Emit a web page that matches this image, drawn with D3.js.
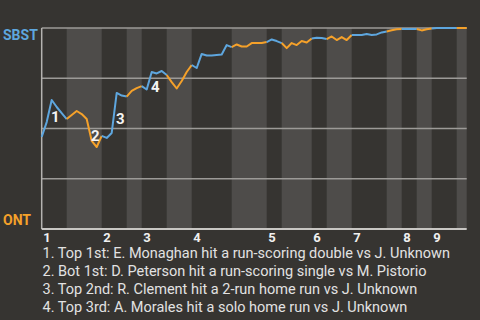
<!DOCTYPE html>
<html>
<head>
<meta charset="utf-8">
<script src="https://cdn.jsdelivr.net/npm/d3@7"></script>
<style>
  html, body { margin: 0; padding: 0; background: #363431; }
  svg { display: block; font-family: Roboto, "Noto Sans", sans-serif; }
</style>
</head>
<body>
<div id="chart"></div>
<script>
const away_colour = "#5ea6de"
const home_colour = "#f5a12a"
const band_colour = "#4e4c4a"
const grid_colour = "#9c9a97"

const away_team = "SBST"
const home_team = "ONT"

// plate appearance index where each half inning starts (last value = end of game)
const half_innings = [0, 5, 12, 17, 20, 25, 30, 38, 45, 48, 54, 57, 62, 69, 72, 75, 78, 83, 85]
const inning_labels = ["1", "2", "3", "4", "5", "6", "7", "8", "9"]

// SBST win probability after each plate appearance
const win_prob = [
  0.458, 0.532, 0.642, 0.607, 0.577, 0.547, 0.567, 0.587, 0.572, 0.547,
  0.438, 0.408, 0.463, 0.453, 0.478, 0.677, 0.664, 0.659, 0.687, 0.701,
  0.711, 0.694, 0.781, 0.774, 0.786, 0.766, 0.731, 0.699, 0.736, 0.781,
  0.816, 0.801, 0.871, 0.863, 0.863, 0.866, 0.868, 0.915, 0.905, 0.918,
  0.908, 0.908, 0.925, 0.925, 0.925, 0.930, 0.943, 0.935, 0.925, 0.900,
  0.925, 0.915, 0.935, 0.928, 0.948, 0.952, 0.950, 0.945, 0.958, 0.940,
  0.955, 0.940, 0.965, 0.965, 0.965, 0.970, 0.965, 0.968, 0.978, 0.983,
  0.989, 0.994, 0.995, 0.995, 0.995, 0.995, 0.988, 0.994, 0.998, 1.000,
  1.000, 1.000, 1.000, 1.000, 1.000, 1.000
]

const grid_values = [0.25, 0.5, 0.75, 1]

// big plays: plate appearance index where the play ends
const play_index = [2, 10, 15, 22]
const play_labels = ["1", "2", "3", "4"]
const play_notes = [
  "1. Top 1st: E. Monaghan hit a run-scoring double vs J. Unknown",
  "2. Bot 1st: D. Peterson hit a run-scoring single vs M. Pistorio",
  "3. Top 2nd: R. Clement hit a 2-run home run vs J. Unknown",
  "4. Top 3rd: A. Morales hit a solo home run vs J. Unknown"
]

var width = 480, height = 320

var svg = d3.select("#chart")
  .append("svg")
    .attr("width", width)
    .attr("height", height)

var x = d3.scaleLinear().domain([0, 85]).range([41.7, 466.7])
var y = d3.scaleLinear().domain([0, 1]).range([229, 28])

// shaded bottom halves
var halves = d3.range(half_innings.length - 1).map(function(i) {
  return { start: half_innings[i], end: half_innings[i+1], top: i % 2 == 0 }
})

svg.selectAll("band")
  .data(halves.filter(function(d) { return !d.top }))
  .enter()
  .append("rect")
    .attr("x", function(d) { return x(d.start) })
    .attr("width", function(d) { return x(d.end) - x(d.start) })
    .attr("y", y(1))
    .attr("height", y(0) - y(1))
    .style("fill", band_colour)

// gridlines
svg.selectAll("grid")
  .data(grid_values)
  .enter()
  .append("line")
    .attr("x1", x(0))
    .attr("x2", x(85))
    .attr("y1", function(d) { return y(d) })
    .attr("y2", function(d) { return y(d) })
    .style("stroke", grid_colour)
    .style("stroke-width", 1.5)

// axes
svg.append("line")
  .attr("x1", x(0)).attr("x2", x(0))
  .attr("y1", y(1)).attr("y2", y(0))
  .style("stroke", "#b5b3b0").style("stroke-width", 1.5)
svg.append("line")
  .attr("x1", x(0)).attr("x2", x(85))
  .attr("y1", y(0)).attr("y2", y(0))
  .style("stroke", "#c8c6c3").style("stroke-width", 2)

// win probability line, one path per half inning
var line_coords = d3.line()
  .x(function(d) { return x(d) })
  .y(function(d) { return y(win_prob[d]) })

svg.selectAll("wp")
  .data(halves)
  .enter()
  .append("path")
    .attr("d", function(d) { return line_coords(d3.range(d.start, d.end + 1)) })
    .attr("fill", "none")
    .style("stroke", function(d) { return d.top ? away_colour : home_colour })
    .style("stroke-width", 2)
    .style("stroke-linejoin", "round")

// play markers, just below the middle of the jump
svg.selectAll("plays")
  .data(play_index)
  .enter()
  .append("text")
    .attr("x", function(d) { return (x(d - 1) + x(d)) / 2 + 6 })
    .attr("y", function(d) { return (y(win_prob[d - 1]) + y(win_prob[d])) / 2 + 11 })
    .attr("text-anchor", "middle")
    .style("font-size", "15px")
    .style("font-weight", "bold")
    .style("fill", "#f4f4f4")
    .text(function(d, i) { return play_labels[i] })

// team labels
svg.append("text")
  .attr("x", 3).attr("y", 39.5)
  .style("font-size", "14px").style("font-weight", "bold")
  .style("fill", away_colour)
  .text(away_team)
svg.append("text")
  .attr("x", 3).attr("y", 225)
  .style("font-size", "14px").style("font-weight", "bold")
  .style("fill", home_colour)
  .text(home_team)

// inning numbers
svg.selectAll("innings")
  .data(inning_labels)
  .enter()
  .append("text")
    .attr("x", function(d, i) { return x(half_innings[i * 2]) + 1.5 })
    .attr("y", 242)
    .style("font-size", "13px")
    .style("font-weight", "bold")
    .style("fill", "#f0f0f0")
    .text(function(d) { return d })

// notes
svg.selectAll("notes")
  .data(play_notes)
  .enter()
  .append("text")
    .attr("x", 42.5)
    .attr("y", function(d, i) { return 258.3 + i * 17.8 })
    .style("font-size", "14.5px")
    .style("fill", "#e2e2e2")
    .text(function(d) { return d })
</script>
</body>
</html>
